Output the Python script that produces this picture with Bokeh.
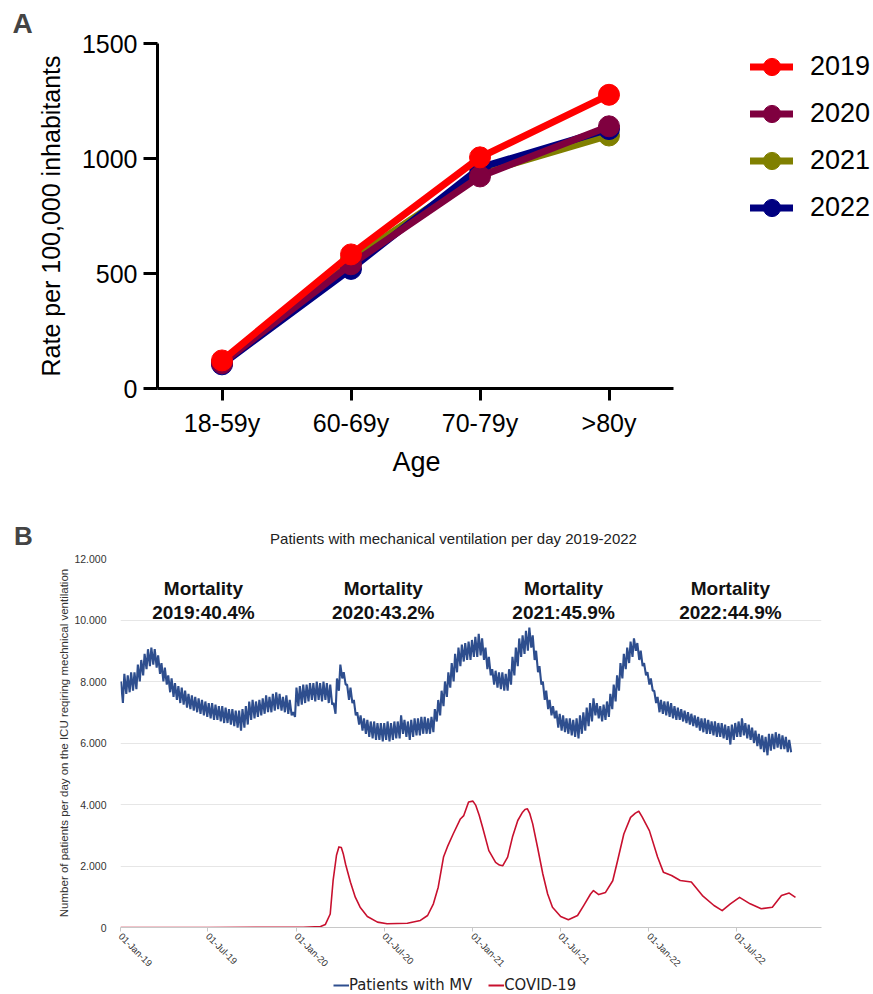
import math
import pandas as pd
from bokeh.plotting import figure
from bokeh.models import (Range1d, FixedTicker, Legend, LegendItem, Label, Title,
                          DatetimeTickFormatter)
from bokeh.embed import file_html
from bokeh.resources import INLINE

# ---------------- Panel A data ----------------
ages = ["18-59y", "60-69y", "70-79y", ">80y"]
years = ["2019", "2020", "2021", "2022"]
rate_2019 = [122, 583, 1005, 1277]
rate_2020 = [110, 540, 922, 1140]
rate_2021 = [112, 560, 935, 1100]
rate_2022 = [105, 520, 960, 1128]
year_colors = {"2019": "#FF0000", "2020": "#7F003F", "2021": "#808000", "2022": "#000080"}
rates = {"2019": rate_2019, "2020": rate_2020, "2021": rate_2021, "2022": rate_2022}
a_yticks = [0, 500, 1000, 1500]

# ---------------- Panel B data ----------------
mv_start = "2019-01-01"  # weekly values starting this date
mv_week_high = [8000, 8250, 8200, 8300, 8300, 8550, 8700, 8900, 9050, 9100,
                9050, 8850, 8600, 8450, 8200, 8100, 7950, 7850, 7800, 7700,
                7600, 7550, 7500, 7450, 7400, 7350, 7300, 7300, 7250, 7200,
                7200, 7150, 7100, 7100, 7050, 7050, 7100, 7200, 7350, 7400,
                7350, 7400, 7450, 7550, 7500, 7600, 7650, 7600, 7500, 7550,
                7400, 7000, 7800, 7850, 7900, 7900, 7950, 7950, 8000, 7950,
                8000, 7950, 7900, 7300, 8100, 8550, 8300, 7900, 7800, 7400,
                7000, 6900, 6800, 6750, 6700, 6700, 6650, 6650, 6650, 6700,
                6650, 6700, 6700, 6900, 6750, 6700, 6750, 6800, 6800, 6850,
                6850, 6800, 6850, 7100, 7400, 7700, 8000, 8300, 8600, 8900,
                9100, 9200, 9250, 9300, 9350, 9450, 9550, 9400, 9100, 8800,
                8400, 8350, 8300, 8300, 8250, 8400, 8800, 9100, 9400, 9500,
                9650, 9750, 9500, 9000, 8500, 8000, 7700, 7400, 7200, 7050,
                6950, 6900, 6800, 6800, 6750, 6800, 6900, 7000, 7150, 7300,
                7450, 7300, 7200, 7250, 7350, 7600, 7900, 8200, 8600, 8900,
                9100, 9300, 9400, 9250, 9000, 8600, 8300, 8100, 7700, 7500,
                7400, 7350, 7350, 7300, 7200, 7150, 7100, 7050, 7000, 6950,
                6900, 6850, 6800, 6800, 6750, 6700, 6700, 6650, 6650, 6600,
                6550, 6600, 6650, 6700, 6800, 6650, 6600, 6500, 6400, 6300,
                6250, 6200, 6300, 6300, 6350, 6300, 6250, 6200, 6100]
mv_week_low = [7300, 7600, 7650, 7700, 7750, 8000, 8200, 8400, 8500, 8550,
               8450, 8250, 8000, 7900, 7650, 7500, 7400, 7300, 7250, 7150,
               7100, 7050, 7000, 6950, 6900, 6850, 6800, 6750, 6750, 6700,
               6650, 6650, 6600, 6550, 6500, 6400, 6500, 6600, 6750, 6800,
               6850, 6900, 6950, 7000, 7000, 7050, 7100, 7050, 7000, 6950,
               6900, 6850, 7200, 7250, 7300, 7350, 7400, 7350, 7400, 7350,
               7400, 7300, 7250, 6950, 7700, 8100, 7900, 7400, 7300, 6900,
               6600, 6400, 6300, 6200, 6150, 6100, 6100, 6050, 6100, 6050,
               6100, 6150, 6150, 6300, 6200, 6100, 6200, 6250, 6250, 6300,
               6300, 6300, 6350, 6700, 6900, 7200, 7500, 7800, 8000, 8300,
               8500, 8650, 8700, 8700, 8800, 8800, 8850, 8700, 8400, 8200,
               7900, 7800, 7750, 7700, 7700, 7900, 8200, 8500, 8800, 8900,
               9000, 9100, 8700, 8300, 7900, 7400, 7100, 6900, 6800, 6500,
               6400, 6350, 6300, 6250, 6200, 6150, 6300, 6400, 6550, 6700,
               6900, 6800, 6700, 6750, 6850, 7100, 7350, 7700, 8100, 8400,
               8600, 8800, 9000, 8700, 8500, 8200, 7900, 7700, 7300, 7000,
               6950, 6900, 6850, 6800, 6750, 6750, 6700, 6650, 6600, 6550,
               6500, 6400, 6350, 6300, 6300, 6250, 6200, 6200, 6150, 6100,
               5950, 6100, 6200, 6200, 6250, 6150, 6100, 6000, 5900, 5800,
               5700, 5600, 5750, 5800, 5850, 5800, 5800, 5700, 5700]

covid_dates = ["2019-01-01", "2019-07-01", "2020-01-15", "2020-02-20", "2020-03-01", "2020-03-11",
               "2020-03-17", "2020-03-24", "2020-03-29", "2020-04-03", "2020-04-07", "2020-04-12",
               "2020-04-22", "2020-05-02",
               "2020-05-12", "2020-05-27", "2020-06-17", "2020-07-07", "2020-08-18", "2020-09-14",
               "2020-09-29", "2020-10-11", "2020-10-21", "2020-11-01", "2020-11-09", "2020-11-21",
               "2020-12-06", "2020-12-13", "2020-12-23", "2021-01-01", "2021-01-07", "2021-01-14",
               "2021-01-21", "2021-02-03", "2021-02-17", "2021-02-25", "2021-03-04", "2021-03-14",
               "2021-03-24", "2021-04-04", "2021-04-14", "2021-04-19", "2021-04-24", "2021-04-29",
               "2021-05-05", "2021-05-15", "2021-05-26", "2021-06-05",
               "2021-06-15", "2021-07-02", "2021-07-18", "2021-08-06", "2021-08-19", "2021-09-02",
               "2021-09-08", "2021-09-19", "2021-10-03", "2021-10-18", "2021-10-28", "2021-11-10",
               "2021-11-24", "2021-12-04", "2021-12-11", "2021-12-18", "2022-01-02", "2022-01-19",
               "2022-01-31", "2022-02-17", "2022-03-07", "2022-03-30", "2022-04-22", "2022-05-16",
               "2022-06-02", "2022-06-19", "2022-07-08", "2022-07-30", "2022-08-22", "2022-09-14",
               "2022-10-03", "2022-10-19", "2022-11-01"]
covid_values = [0, 0, 10, 30, 100, 440,
                1530, 2350, 2620, 2600, 2400, 2050,
                1470, 985,
                660, 360, 175, 120, 140, 230,
                390, 770, 1310, 2290, 2620, 3040,
                3530, 3640, 4080, 4110, 3970, 3650,
                3260, 2500, 2120, 2030, 2010, 2290,
                2940, 3480, 3750, 3840, 3860, 3700,
                3370, 2610, 1740, 1090,
                660, 360, 250, 390, 720, 1090,
                1200, 1070, 1140, 1520, 2170, 3040,
                3580, 3720, 3780, 3600, 3150, 2290,
                1800, 1690, 1530, 1480, 1040, 715,
                550, 770, 980, 770, 610, 660,
                1040, 1120, 980]

mort_years = ["2019", "2020", "2021", "2022"]
mort_pct = ["40.4%", "43.2%", "45.9%", "44.9%"]

b_yticks = [0, 2000, 4000, 6000, 8000, 10000, 12000]
b_ytick_labels = ["0", "2.000", "4.000", "6.000", "8.000", "10.000", "12.000"]
b_xticks = ["2019-01-01", "2019-07-01", "2020-01-01", "2020-07-01",
            "2021-01-01", "2021-07-01", "2022-01-01", "2022-07-01"]
series_names = ["Patients with MV", "COVID-19"]
series_colors = ["#2E4E8E", "#C8102E"]

assert len(mv_week_high) == len(mv_week_low)
assert len(covid_dates) == len(covid_values)


def ms(d):
    return pd.Timestamp(d).value / 1e6


FONT = "Liberation Sans"
W = 873

# ================= Panel A =================
A_LEFT = 157
A_UNIT = 129  # pixels per category slot
age_pos = list(range(len(ages)))
a_xmax = -0.5 + (W - A_LEFT) / A_UNIT
pA = figure(x_range=Range1d(-0.5, a_xmax), y_range=Range1d(0, 1500),
            width=W, height=488, output_backend="svg", toolbar_location=None,
            min_border_left=A_LEFT, min_border_right=0, min_border_top=43, min_border_bottom=100)
pA.outline_line_color = None
pA.grid.visible = False
pA.title.text = "A"
pA.title.align = "left"
pA.title.offset = -145
pA.title.standoff = 10
pA.title.text_font = FONT
pA.title.text_font_size = "28px"
pA.title.text_font_style = "bold"

rend = {}
for yr in ["2021", "2022", "2020", "2019"]:
    c = year_colors[yr]
    l = pA.line(age_pos, rates[yr], line_color=c, line_width=7, line_cap="round", line_join="round")
    s = pA.scatter(age_pos, rates[yr], size=21, fill_color=c, line_color=c)
    rend[yr] = [l, s]

legA = Legend(items=[LegendItem(label=yr, renderers=rend[yr]) for yr in years],
              location=(593, 157), orientation="vertical",
              glyph_width=43, glyph_height=47, label_height=47, spacing=0,
              padding=0, margin=0, label_standoff=17,
              border_line_color=None, background_fill_alpha=0,
              label_text_font=FONT, label_text_font_size="27px", label_text_color="black")
pA.add_layout(legA, "center")

for ax in (pA.xaxis[0], pA.yaxis[0]):
    ax.axis_line_width = 3
    ax.axis_line_color = "black"
    ax.major_tick_line_width = 3
    ax.major_tick_line_color = "black"
    ax.minor_tick_line_color = None
    ax.major_tick_in = 0
    ax.major_label_text_font = FONT
    ax.major_label_text_color = "black"
    ax.axis_label_text_font = FONT
    ax.axis_label_text_font_style = "normal"
    ax.axis_label_text_color = "black"

pA.yaxis.ticker = FixedTicker(ticks=a_yticks)
pA.yaxis.major_tick_out = 14
pA.yaxis.major_label_text_font_size = "25px"
pA.yaxis.major_label_standoff = 6
pA.yaxis.axis_label = "Rate per 100,000 inhabitants"
pA.yaxis.axis_label_text_font_size = "25px"
pA.yaxis.axis_label_standoff = 14

pA.xaxis.ticker = FixedTicker(ticks=age_pos)
pA.xaxis.major_label_overrides = dict(zip(age_pos, ages))
pA.xaxis.bounds = (-0.5, len(ages) - 0.5)
pA.xaxis.major_tick_out = 12
pA.xaxis.major_label_text_font_size = "25px"
pA.xaxis.major_label_standoff = 8
# axis title, centred under the (bounded) axis line
pA.add_layout(Title(text="Age", align="left", offset=415 - A_LEFT - 23, standoff=14,
                    vertical_align="top", text_font=FONT, text_font_size="27px",
                    text_font_style="normal", text_color="black"), "below")

# ================= Header of panel B (letter + title) =================
HH = 62
pH = figure(width=W, height=HH, x_range=Range1d(0, W), y_range=Range1d(HH, 0),
            output_backend="svg", toolbar_location=None,
            x_axis_location=None, y_axis_location=None,
            min_border_left=0, min_border_right=0, min_border_top=0, min_border_bottom=0)
pH.outline_line_color = None
pH.grid.visible = False
pH.add_layout(Label(x=23, y=47, text="B", text_font=FONT, text_font_size="26px",
                    text_font_style="bold", text_align="center", text_baseline="middle"))
pH.add_layout(Label(x=453, y=50, text="Patients with mechanical ventilation per day 2019-2022",
                    text_font=FONT, text_font_size="15px", text_color="#222222",
                    text_align="center", text_baseline="middle"))

# ================= Panel B =================
x0 = ms("2019-01-01")
x1 = ms("2022-12-25")
pB = figure(x_axis_type="datetime", x_range=Range1d(x0, x1), y_range=Range1d(0, 12000),
            width=W, height=425, output_backend="svg", toolbar_location=None,
            min_border_left=120, min_border_right=52, min_border_top=8, min_border_bottom=48)
pB.outline_line_color = None

start = pd.Timestamp(mv_start)
mv_x, mv_y = [], []
for i, (h, lo) in enumerate(zip(mv_week_high, mv_week_low)):
    mv_x.append(start + pd.Timedelta(days=7 * i + 1))
    mv_y.append(h)
    mv_x.append(start + pd.Timedelta(days=7 * i + 5))
    mv_y.append(lo)

pB.line(mv_x, mv_y, line_color=series_colors[0], line_width=2.1)
pB.line(pd.to_datetime(covid_dates), covid_values, line_color=series_colors[1], line_width=1.6,
        line_join="round")

pB.xgrid.visible = False
pB.ygrid.ticker = FixedTicker(ticks=b_yticks)
pB.ygrid.grid_line_color = "#E6E6E6"
pB.ygrid.grid_line_width = 1

pB.yaxis.ticker = FixedTicker(ticks=b_yticks)
pB.yaxis.major_label_overrides = dict(zip(b_yticks, b_ytick_labels))
pB.yaxis.axis_line_color = None
pB.yaxis.major_tick_line_color = None
pB.yaxis.minor_tick_line_color = None
pB.yaxis.major_label_text_font = FONT
pB.yaxis.major_label_text_font_size = "10.5px"
pB.yaxis.major_label_text_color = "#333333"
pB.yaxis.major_label_standoff = 8
pB.yaxis.axis_label = "Number of patients per day on the ICU reqiring mechnical ventilation"
pB.yaxis.axis_label_text_font = FONT
pB.yaxis.axis_label_text_font_size = "11.5px"
pB.yaxis.axis_label_text_font_style = "normal"
pB.yaxis.axis_label_text_color = "#333333"
pB.yaxis.axis_label_standoff = 1

pB.xaxis.ticker = FixedTicker(ticks=[ms(d) for d in b_xticks])
fmt = "%d-%b-%y"
pB.xaxis.formatter = DatetimeTickFormatter(days=fmt, months=fmt, years=fmt, hours=fmt,
                                           context=None)
pB.xaxis.major_label_orientation = -math.pi / 4
pB.xaxis.major_label_text_font = FONT
pB.xaxis.major_label_text_font_size = "9.5px"
pB.xaxis.major_label_text_color = "#333333"
pB.xaxis.major_label_standoff = 3
pB.xaxis.axis_line_color = "#C8C8C8"
pB.xaxis.major_tick_line_color = "#C8C8C8"
pB.xaxis.major_tick_out = 4
pB.xaxis.major_tick_in = 0
pB.xaxis.minor_tick_line_color = None

mort_x = ["2019-06-22", "2020-06-29", "2021-07-08", "2022-06-19"]
for d, yr, pct in zip(mort_x, mort_years, mort_pct):
    pB.add_layout(Label(x=ms(d), y=11024, text="Mortality", text_font=FONT,
                        text_font_size="19px", text_font_style="bold", text_color="#111111",
                        text_align="center", text_baseline="middle"))
    pB.add_layout(Label(x=ms(d), y=10244, text=f"{yr}:{pct}", text_font=FONT,
                        text_font_size="19px", text_font_style="bold", text_color="#111111",
                        text_align="center", text_baseline="middle"))

# ================= Legend strip of panel B =================
LH = 994 - 488 - HH - 425
pL = figure(width=W, height=LH, x_range=Range1d(0, 1), y_range=Range1d(0, 1),
            output_backend="svg", toolbar_location=None,
            x_axis_location=None, y_axis_location=None,
            min_border_left=0, min_border_right=0, min_border_top=0, min_border_bottom=0)
pL.outline_line_color = None
pL.grid.visible = False
nan = float("nan")
leg_r = [pL.line(x=[nan, nan], y=[nan, nan], line_color=c, line_width=2) for c in series_colors]
legB = Legend(items=[LegendItem(label=n, renderers=[r]) for n, r in zip(series_names, leg_r)],
              location=(333, 0), orientation="horizontal",
              glyph_width=16, glyph_height=18, label_height=18, spacing=16,
              padding=0, margin=0, label_standoff=0,
              border_line_color=None, background_fill_alpha=0,
              label_text_font="DejaVu Sans Condensed", label_text_font_size="16.5px",
              label_text_color="#222222")
pL.add_layout(legB, "center")

open("out.html", "w").write(file_html([pA, pH, pB, pL], INLINE))
